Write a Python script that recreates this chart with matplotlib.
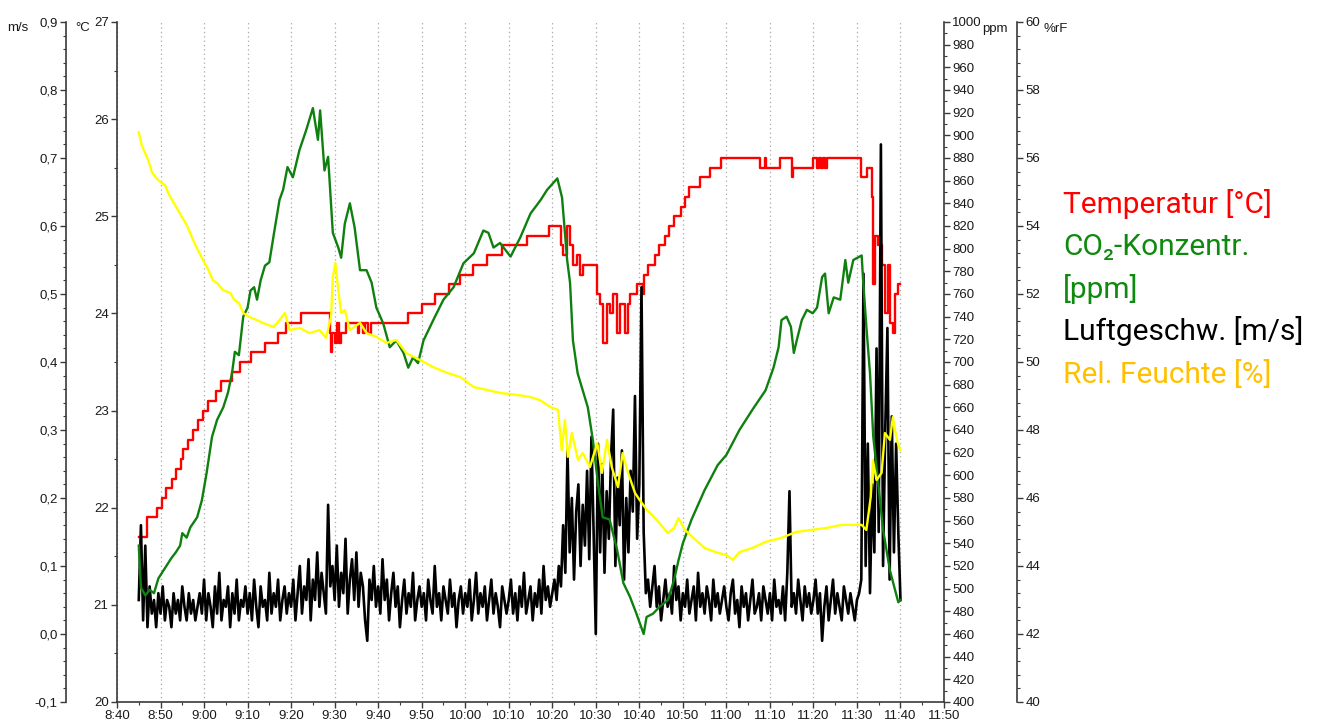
import numpy as np
import matplotlib
matplotlib.use("Agg")
import matplotlib.pyplot as plt
from matplotlib.ticker import MultipleLocator, FuncFormatter

# --- data (times are clock times) ---
temp_time = ["8:45:00", "8:46:50", "8:49:05", "8:50:15", "8:51:15", "8:52:35", "8:53:40",
             "8:54:40", "8:55:15", "8:56:20", "8:57:30", "8:58:40", "8:59:50", "9:01:00",
             "9:02:40", "9:03:50", "9:06:20", "9:08:20", "9:10:50", "9:14:00", "9:17:00",
             "9:18:50", "9:22:20", "9:28:50", "9:29:10", "9:29:30", "9:30:00", "9:30:30",
             "9:31:00", "9:31:30", "9:32:40", "9:35:20", "9:35:40", "9:36:30", "9:37:00",
             "9:37:40", "9:38:20", "9:46:50", "9:50:00", "9:53:00", "9:56:10", "9:58:50",
             "10:01:50", "10:05:00", "10:08:30", "10:14:10", "10:19:10", "10:21:55", "10:22:30",
             "10:23:25", "10:24:05", "10:24:45", "10:25:40", "10:26:20", "10:27:00", "10:30:15",
             "10:31:00", "10:31:40", "10:32:35", "10:33:15", "10:33:55", "10:34:50", "10:35:35",
             "10:36:45", "10:37:25", "10:37:50", "10:39:30", "10:40:50", "10:41:00", "10:42:00",
             "10:43:30", "10:44:35", "10:45:50", "10:46:55", "10:48:05", "10:49:35", "10:50:25",
             "10:51:30", "10:53:50", "10:56:10", "10:58:50", "11:07:50", "11:08:50", "11:09:10",
             "11:12:20", "11:15:00", "11:15:20", "11:20:00", "11:20:45", "11:21:15", "11:21:40",
             "11:22:10", "11:22:40", "11:23:10", "11:30:50", "11:32:15", "11:33:25", "11:33:40",
             "11:34:05", "11:34:50", "11:35:45", "11:36:25", "11:37:05", "11:37:35", "11:38:15",
             "11:38:40", "11:39:20", "11:40:00"]
temp_val = [21.7, 21.9, 22.0, 22.1, 22.2, 22.3, 22.4,
            22.5, 22.6, 22.7, 22.8, 22.9, 23.0, 23.1,
            23.2, 23.3, 23.4, 23.5, 23.6, 23.7, 23.8,
            23.9, 24.0, 23.8, 23.6, 23.8, 23.7, 23.9,
            23.7, 23.8, 23.9, 23.8, 23.9, 23.8, 23.9,
            23.8, 23.9, 24.0, 24.1, 24.2, 24.3, 24.4,
            24.5, 24.6, 24.7, 24.8, 24.9, 24.7, 24.6,
            24.9, 24.7, 24.5, 24.6, 24.4, 24.5, 24.2,
            24.1, 23.7, 24.1, 24.0, 24.2, 23.8, 24.1,
            23.8, 24.1, 24.2, 24.3, 24.2, 24.4, 24.5,
            24.6, 24.7, 24.8, 24.9, 25.0, 25.1, 25.2,
            25.3, 25.4, 25.5, 25.6, 25.5, 25.6, 25.5,
            25.6, 25.4, 25.5, 25.6, 25.5, 25.6, 25.5,
            25.6, 25.5, 25.6, 25.4, 25.5, 25.2, 24.3,
            24.8, 24.7, 24.5, 24.0, 24.5, 23.9, 23.8,
            24.2, 24.3, 24.3]

co2_time = ["8:45:00", "8:45:30", "8:46:30", "8:47:30", "8:48:30", "8:49:30", "8:50:30",
            "8:51:30", "8:52:30", "8:53:30", "8:54:30", "8:55:00", "8:56:00", "8:56:50",
            "8:58:25", "8:59:30", "9:00:35", "9:01:50", "9:03:00", "9:04:25", "9:05:30",
            "9:06:25", "9:07:05", "9:08:00", "9:09:00", "9:10:00", "9:10:40", "9:11:30",
            "9:12:10", "9:13:00", "9:14:00", "9:15:00", "9:16:00", "9:17:20", "9:18:10",
            "9:19:10", "9:20:25", "9:21:55", "9:23:30", "9:25:00", "9:26:10", "9:26:40",
            "9:27:40", "9:28:30", "9:29:35", "9:30:50", "9:31:30", "9:32:20", "9:33:30",
            "9:34:35", "9:35:50", "9:37:20", "9:38:30", "9:39:35", "9:41:10", "9:42:40",
            "9:44:10", "9:45:50", "9:46:55", "9:48:00", "9:49:10", "9:50:25", "9:52:40",
            "9:55:00", "9:57:20", "9:59:35", "10:02:00", "10:04:10", "10:05:20", "10:06:30",
            "10:08:00", "10:10:25", "10:12:40", "10:15:00", "10:17:20", "10:18:50", "10:21:10",
            "10:22:15", "10:23:25", "10:24:05", "10:24:45", "10:25:50", "10:27:00", "10:28:10",
            "10:29:20", "10:30:30", "10:31:35", "10:33:10", "10:34:55", "10:36:20", "10:37:50",
            "10:39:20", "10:41:00", "10:41:40", "10:43:10", "10:44:40", "10:46:35", "10:48:00",
            "10:49:00", "10:50:00", "10:52:00", "10:55:00", "10:58:00", "11:00:00", "11:03:00",
            "11:06:00", "11:09:00", "11:09:50", "11:10:50", "11:12:00", "11:12:40", "11:13:50",
            "11:14:50", "11:15:30", "11:16:10", "11:17:20", "11:18:30", "11:19:50", "11:20:50",
            "11:22:00", "11:22:40", "11:23:30", "11:24:40", "11:26:10", "11:27:20", "11:28:00",
            "11:29:10", "11:31:05", "11:31:25", "11:32:10", "11:33:00", "11:33:45", "11:34:30",
            "11:36:00", "11:37:35", "11:39:30", "11:40:00"]
co2_val = [538, 501, 494, 499, 496, 509, 515,
           521, 527, 532, 538, 549, 545, 554,
           563, 578, 602, 634, 649, 660, 673,
           690, 709, 706, 740, 748, 763, 766,
           755, 772, 785, 788, 812, 843, 852,
           872, 863, 887, 905, 924, 896, 922,
           869, 881, 814, 801, 792, 822, 840,
           819, 781, 781, 770, 748, 734, 713,
           719, 708, 695, 704, 699, 719, 737,
           755, 766, 787, 796, 816, 814, 801,
           805, 793, 810, 831, 843, 852, 862,
           845, 790, 770, 719, 690, 675, 660,
           631, 593, 563, 561, 534, 505, 493,
           478, 460, 475, 478, 484, 490, 508,
           525, 540, 561, 587, 609, 618, 640,
           658, 675, 684, 695, 713, 737, 740,
           731, 708, 719, 737, 746, 743, 748,
           775, 778, 743, 757, 755, 790, 770,
           790, 794, 772, 731, 690, 634, 607,
           552, 516, 488, 490]

rh_time = ["8:45:00", "8:45:40", "8:46:20", "8:47:10", "8:48:00", "8:49:00", "8:50:00",
           "8:51:00", "8:52:00", "8:54:00", "8:56:00", "8:58:00", "9:00:00", "9:01:00",
           "9:02:00", "9:03:00", "9:04:20", "9:06:00", "9:07:00", "9:08:00", "9:09:00",
           "9:10:30", "9:12:00", "9:13:30", "9:16:00", "9:17:00", "9:18:35", "9:19:40",
           "9:22:00", "9:24:15", "9:26:30", "9:28:00", "9:29:10", "9:29:35", "9:30:10",
           "9:30:50", "9:31:30", "9:32:20", "9:33:30", "9:35:50", "9:37:20", "9:39:35",
           "9:41:55", "9:44:10", "9:46:30", "9:49:35", "9:52:40", "9:55:50", "9:58:50",
           "10:02:00", "10:05:00", "10:08:00", "10:12:00", "10:15:00", "10:17:10", "10:19:30",
           "10:21:20", "10:22:10", "10:22:55", "10:23:35", "10:24:30", "10:25:55", "10:27:00",
           "10:28:40", "10:30:20", "10:31:25", "10:32:35", "10:33:40", "10:35:05", "10:36:10",
           "10:37:25", "10:39:00", "10:40:05", "10:41:45", "10:44:00", "10:46:35", "10:48:00",
           "10:49:00", "10:50:30", "10:53:00", "10:55:00", "10:57:30", "11:00:00", "11:01:30",
           "11:03:00", "11:06:00", "11:09:00", "11:12:30", "11:16:00", "11:19:30", "11:23:00",
           "11:26:30", "11:31:05", "11:32:10", "11:33:10", "11:33:40", "11:34:30", "11:35:40",
           "11:36:25", "11:37:35", "11:38:15", "11:39:10", "11:39:55"]
rh_val = [56.76, 56.38, 56.18, 55.94, 55.59, 55.41, 55.29,
          55.21, 54.91, 54.47, 54.03, 53.44, 52.94, 52.71,
          52.41, 52.32, 52.12, 52.03, 51.82, 51.74, 51.44,
          51.32, 51.24, 51.15, 51.03, 51.18, 51.44, 50.94,
          51.00, 50.85, 50.94, 50.71, 51.32, 52.50, 52.91,
          52.12, 51.44, 51.53, 50.94, 51.15, 50.85, 50.74,
          50.56, 50.65, 50.26, 50.06, 49.85, 49.68, 49.56,
          49.26, 49.18, 49.09, 49.03, 48.97, 48.88, 48.68,
          48.59, 47.41, 48.29, 47.21, 47.91, 47.12, 47.32,
          46.91, 47.62, 46.74, 47.71, 46.91, 46.32, 47.32,
          46.74, 46.15, 45.94, 45.65, 45.35, 44.97, 45.12,
          45.41, 45.06, 44.76, 44.53, 44.41, 44.32, 44.18,
          44.41, 44.53, 44.71, 44.82, 45.00, 45.06, 45.12,
          45.21, 45.21, 45.06, 46.03, 47.12, 46.53, 46.74,
          47.91, 47.71, 48.38, 47.71, 47.41]

# air speed, one reading every 30 s from 8:45:00 to 11:40:00
speed_start = "8:45:00"
speed_step_s = 30
speed_val = [
    0.05, 0.16, 0.02, 0.13, 0.01, 0.07, 0.03, 0.05, 0.01, 0.06,
    0.03, 0.07, 0.02, 0.05, 0.04, 0.01, 0.06, 0.03, 0.05, 0.02, 0.07, 0.04, 0.02, 0.06, 0.03, 0.05, 0.02, 0.04, 0.06, 0.03,
    0.08, 0.02, 0.06, 0.04, 0.01, 0.07, 0.03, 0.09, 0.02, 0.05, 0.04, 0.07, 0.01, 0.06, 0.03, 0.08, 0.02, 0.05, 0.04, 0.07,
    0.03, 0.06, 0.02, 0.08, 0.04, 0.01, 0.07, 0.04, 0.05, 0.02, 0.09, 0.03, 0.06, 0.04, 0.08, 0.02, 0.05, 0.07, 0.03, 0.06,
    0.04, 0.08, 0.02, 0.06, 0.10, 0.03, 0.07, 0.05, 0.11, 0.02, 0.08, 0.05, 0.12, 0.04, 0.09, 0.06, 0.03, 0.19, 0.07, 0.10,
    0.05, 0.13, 0.04, 0.09, 0.06, 0.14, 0.03, 0.08, 0.11, 0.05, 0.12, 0.04, 0.09, 0.07, 0.02, -0.01, 0.08, 0.05, 0.10, 0.04,
    0.07, 0.03, 0.11, 0.05, 0.08, 0.02, 0.06, 0.09, 0.04, 0.07, 0.01, 0.05, 0.08, 0.03, 0.06, 0.04, 0.09, 0.02, 0.05, 0.07,
    0.04, 0.06, 0.02, 0.08, 0.05, 0.03, 0.10, 0.04, 0.06, 0.02, 0.07, 0.05, 0.03, 0.08, 0.04, 0.06, 0.01, 0.05, 0.07, 0.03,
    0.06, 0.04, 0.08, 0.02, 0.05, 0.09, 0.03, 0.06, 0.04, 0.07, 0.02, 0.05, 0.08, 0.03, 0.06, 0.04, 0.01, 0.07, 0.05, 0.03,
    0.05, 0.08, 0.03, 0.06, 0.02, 0.07, 0.04, 0.09, 0.03, 0.05, 0.07, 0.02, 0.06, 0.04, 0.08, 0.03, 0.10, 0.05, 0.07, 0.04,
    0.06, 0.08, 0.05, 0.10, 0.07, 0.16, 0.09, 0.27, 0.12, 0.20, 0.08, 0.18, 0.22, 0.10, 0.19, 0.13, 0.24, 0.11, 0.29, 0.15,
    0.00, 0.28, 0.12, 0.25, 0.09, 0.21, 0.14, 0.26, 0.33, 0.10, 0.23, 0.16, 0.27, 0.08, 0.20, 0.12, 0.24, 0.18, 0.35, 0.14,
    0.22, 0.51, 0.15, 0.06, 0.08, 0.04, 0.07, 0.10, 0.04, 0.07, 0.02, 0.05, 0.08, 0.04, 0.06, 0.03, 0.10, 0.05, 0.07, 0.02,
    0.06, 0.04, 0.08, 0.03, 0.05, 0.07, 0.02, 0.09, 0.04, 0.06, 0.03, 0.07, 0.05, 0.02, 0.08, 0.04, 0.06, 0.03, 0.05, 0.07,
    0.04, 0.02, 0.06, 0.08, 0.03, 0.05, 0.01, 0.07, 0.04, 0.06, 0.02, 0.05, 0.08, 0.03, 0.04, 0.06, 0.02, 0.07, 0.05, 0.03,
    0.06, 0.02, 0.08, 0.04, 0.05, 0.03, 0.07, 0.02, 0.09, 0.21, 0.04, 0.06, 0.03, 0.08, 0.05, 0.02, 0.07, 0.04, 0.06, 0.03,
    0.05, 0.08, 0.03, 0.06, -0.01, 0.04, 0.07, 0.02, 0.05, 0.08, 0.03, 0.06, 0.04, 0.02, 0.07, 0.05, 0.03, 0.06, 0.04, 0.02,
    0.05, 0.06, 0.08, 0.53, 0.10, 0.28, 0.06, 0.22, 0.12, 0.42, 0.15, 0.72, 0.10, 0.30, 0.45, 0.08, 0.32, 0.12, 0.28, 0.15,
    0.05,
]

legend_labels = ["Temperatur [°C]", "CO₂-Konzentr.", "[ppm]", "Luftgeschw. [m/s]", "Rel. Feuchte [%]"]
legend_colors = ["#ff0000", "#0f8a0f", "#0f8a0f", "#000000", "#ffc000"]


def clock(s):
    parts = [int(p) for p in s.split(":")]
    while len(parts) < 3:
        parts.append(0)
    return parts[0] * 60 + parts[1] + parts[2] / 60.0


def minutes(lst):
    return np.array([clock(s) for s in lst])


W, H = 1323, 720
PX = 72 / 100  # points per pixel at dpi 100
TICK_FONT = ["Liberation Sans", "DejaVu Sans"]
SPINE = "#3a3a3a"

fig = plt.figure(figsize=(W / 100, H / 100), dpi=100)
ax = fig.add_axes([117 / W, 18 / H, 827 / W, 680 / H])
ax_ms = ax.twinx()
ax_ppm = ax.twinx()
ax_rh = ax.twinx()


def style_axis(a, side, offset_px):
    for name, sp in a.spines.items():
        sp.set_visible(False)
    sp = a.spines[side]
    sp.set_visible(True)
    sp.set_color(SPINE)
    sp.set_linewidth(1.2)
    sp.set_position(("outward", offset_px * PX))
    if side == "left":
        a.yaxis.tick_left()
    else:
        a.yaxis.tick_right()
    a.tick_params(axis="y", which="major", length=4, width=1, color=SPINE,
                  pad=2, labelsize=9.5, labelcolor="#1a1a1a")
    a.tick_params(axis="y", which="minor", length=2.5, width=0.8, color=SPINE)


comma = FuncFormatter(lambda v, p: f"{v:.1f}".replace(".", ","))

# temperature on the main axes
ax.set_xlim(clock("8:40"), clock("11:50"))
ax.set_ylim(20, 27)
ax.yaxis.set_major_locator(MultipleLocator(1))
ax.yaxis.set_minor_locator(MultipleLocator(0.5))
ax.spines["top"].set_visible(False)
ax.spines["right"].set_visible(False)
for side in ("left", "bottom"):
    ax.spines[side].set_color(SPINE)
    ax.spines[side].set_linewidth(1.2)
ax.tick_params(axis="y", which="major", length=4, width=1, color=SPINE, pad=2,
               labelsize=9.5, labelcolor="#1a1a1a")
ax.tick_params(axis="y", which="minor", length=2.5, width=0.8, color=SPINE)
ax.xaxis.set_major_locator(MultipleLocator(10))
ax.xaxis.set_minor_locator(MultipleLocator(5))
ax.xaxis.set_major_formatter(FuncFormatter(lambda m, p: f"{int(m // 60)}:{int(round(m % 60)):02d}"))
ax.tick_params(axis="x", which="major", length=4, width=1, color=SPINE, pad=1.5,
               labelsize=9.5, labelcolor="#1a1a1a")
ax.tick_params(axis="x", which="minor", length=2.5, width=0.8, color=SPINE)
ax.grid(axis="x", which="major", linestyle=(0, (1, 2.5)), color="#a8a8a8", linewidth=0.9)

ax.plot(minutes(temp_time), temp_val, drawstyle="steps-post", color="#ff0000", lw=1.7)

# air speed
style_axis(ax_ms, "left", 51)
ax_ms.set_ylim(-0.1, 0.9)
ax_ms.yaxis.set_major_locator(MultipleLocator(0.1))
ax_ms.yaxis.set_minor_locator(MultipleLocator(0.02))
ax_ms.yaxis.set_major_formatter(comma)
t_speed = clock(speed_start) + np.arange(len(speed_val)) * speed_step_s / 60.0
ax_ms.plot(t_speed, speed_val, color="#000000", lw=1.9)

# CO2
style_axis(ax_ppm, "right", 0)
ax_ppm.set_ylim(400, 1000)
ax_ppm.yaxis.set_major_locator(MultipleLocator(20))
ax_ppm.yaxis.set_minor_locator(MultipleLocator(10))
ax_ppm.plot(minutes(co2_time), co2_val, color="#0f800f", lw=1.7)

# humidity
style_axis(ax_rh, "right", 73)
ax_rh.set_ylim(40, 60)
ax_rh.yaxis.set_major_locator(MultipleLocator(2))
ax_rh.yaxis.set_minor_locator(MultipleLocator(0.4))
ax_rh.plot(minutes(rh_time), rh_val, color="#ffff00", lw=1.7)

for a in (ax, ax_ms, ax_ppm, ax_rh):
    for lab in a.get_yticklabels() + a.get_xticklabels():
        lab.set_family(TICK_FONT)

# unit labels above the axes
for txt, px, py in [("m/s", 18, 28), ("°C", 83, 28), ("ppm", 995, 29), ("%rF", 1056, 29)]:
    fig.text(px / W, 1 - py / H, txt, ha="center", va="center", fontsize=9.5,
             family=TICK_FONT, color="#1a1a1a")

# coloured legend text on the right
for i, (txt, col) in enumerate(zip(legend_labels, legend_colors)):
    fig.text(1063 / W, 1 - (213 + i * 42.5) / H, txt, color=col, fontsize=21.5,
             family=["Roboto", "DejaVu Sans"], va="baseline", ha="left")

fig.savefig("out.png", dpi=100)
